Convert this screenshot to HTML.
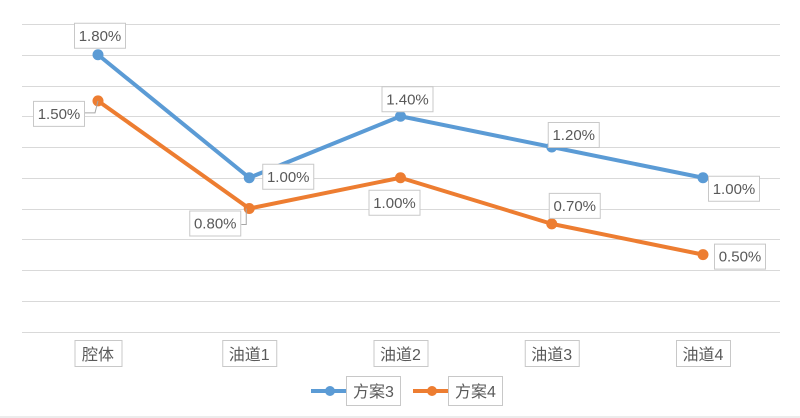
<!DOCTYPE html>
<html><head><meta charset="utf-8"><style>
html,body{margin:0;padding:0;background:#fff;}
svg{display:block;font-family:"Liberation Sans","Noto Sans CJK SC",sans-serif;}
</style></head><body>
<svg id="chart" width="800" height="418" viewBox="0 0 800 418">
<line x1="0" y1="417" x2="800" y2="417" stroke="#d9d9d9"/>
<g id="grid"></g><g id="series"></g><g id="labels"></g><g id="cats"></g>
<g>
 <g>
  <line x1="311" y1="391" x2="351" y2="391" stroke="#5b9bd5" stroke-width="4"/>
  <circle cx="330" cy="391" r="5" fill="#5b9bd5"/>
  <rect x="346.5" y="376.5" width="54" height="29" fill="#fff" stroke="#c8c8c8"/>
  <text x="373.5" y="397" font-size="16" fill="#595959" text-anchor="middle">方案3</text>
 </g>
 <g>
  <line x1="413" y1="391" x2="452" y2="391" stroke="#ed7d31" stroke-width="4"/>
  <circle cx="432" cy="391" r="5" fill="#ed7d31"/>
  <rect x="448.5" y="376.5" width="54" height="29" fill="#fff" stroke="#c8c8c8"/>
  <text x="475.5" y="397" font-size="16" fill="#595959" text-anchor="middle">方案4</text>
 </g>
</g>
</svg>
<script>
const categories=["腔体","油道1","油道2","油道3","油道4"];
const series3=[1.80,1.00,1.40,1.20,1.00];
const series4=[1.50,0.80,1.00,0.70,0.50];
const yTicks=[0,0.2,0.4,0.6,0.8,1.0,1.2,1.4,1.6,1.8,2.0];
const NS="http://www.w3.org/2000/svg";
const x0=98,xStep=151.25,yZero=331.5,yTop=24,yMax=2.0;
function xs(i){return x0+i*xStep;}
function ys(v){return yZero-(v/yMax)*(yZero-yTop);}
function mk(tag,attrs,parent){const e=document.createElementNS(NS,tag);for(const k in attrs)e.setAttribute(k,attrs[k]);parent.appendChild(e);return e;}
const grid=document.getElementById('grid');
yTicks.forEach(t=>{const l=mk('line',{x1:22,x2:780,y1:Math.round(ys(t))+0.5,y2:Math.round(ys(t))+0.5,stroke:'#d9d9d9','stroke-width':1},grid);

});
const cats=document.getElementById('cats');
categories.forEach((c,i)=>{const g=mk('g',{},cats);


const w=c.length>2?54:47;
mk('rect',{x:xs(i)-w/2+0.5,y:340.5,width:w,height:26,fill:'#fff',stroke:'#c8c8c8'},g);
const t=mk('text',{x:xs(i),y:360,'font-size':16,fill:'#595959','text-anchor':'middle'},g);t.textContent=c;});
const ser=document.getElementById('series'),lab=document.getElementById('labels');
function draw(vals,color,name,offs){
 const pts=vals.map((v,i)=>xs(i)+','+ys(v)).join(' ');
 const pl=mk('polyline',{points:pts,fill:'none',stroke:color,'stroke-width':4,'stroke-linejoin':'round'},ser);
 
 
 vals.forEach((v,i)=>{const c=mk('circle',{cx:xs(i),cy:ys(v),r:5.5,fill:color},ser);
  
  
  const o=offs[i];const bx=xs(i)+o[0],by=ys(v)+o[1];
  const g=mk('g',{},lab);
  
  
  if(o[2])mk('polyline',{points:o[2].map(p=>(xs(i)+p[0])+','+(ys(v)+p[1])).join(' '),fill:'none',stroke:'#a6a6a6'},g);
  mk('rect',{x:bx+0.5,y:by+0.5,width:51,height:25,fill:'#fff',stroke:'#c8c8c8'},g);
  const t=mk('text',{x:bx+26,y:by+18,'font-size':15,fill:'#595959','text-anchor':'middle'},g);
  t.textContent=v.toFixed(2)+'%';});
}
draw(series3,'#5b9bd5','series-3',[[-24,-32],[13,-14],[-19,-30],[-4,-25],[5,-2]]);
draw(series4,'#ed7d31','series-4',[[-65,0,[[-13,12],[-3,12],[0,0]]],[-60,2,[[-8,16],[-3,16],[-3,0]]],[-32,12],[-3,-31],[11,-11]]);
</script>
</body></html>
